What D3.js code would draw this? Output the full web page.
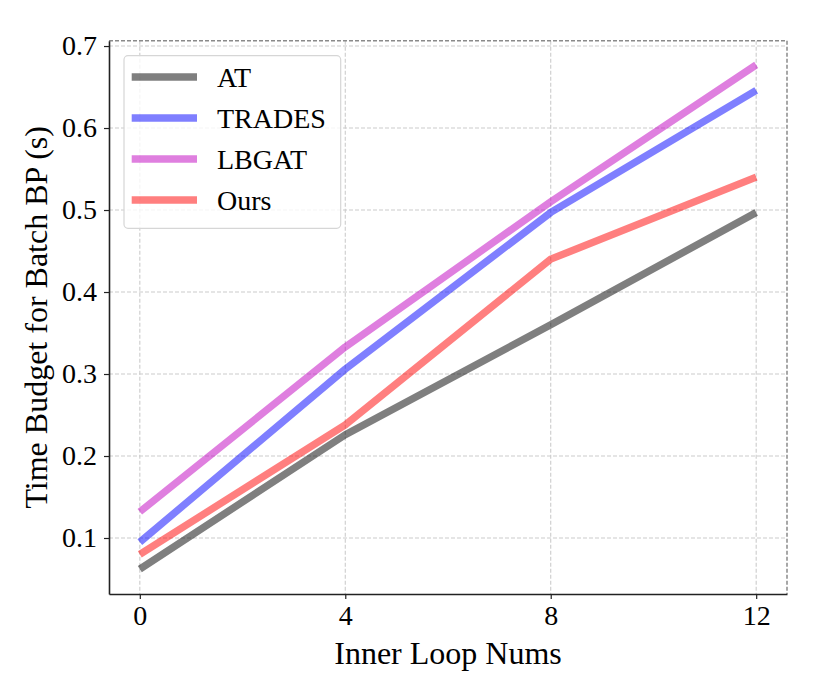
<!DOCTYPE html>
<html><head><meta charset="utf-8">
<script src="https://cdn.jsdelivr.net/npm/d3@7/dist/d3.min.js"></script>
<style>body{margin:0;background:#fff}svg{display:block}text{font-family:"Liberation Serif","Times New Roman",serif;fill:#000}</style>
</head><body><div id="chart"></div>
<script>
const xValues = [0, 4, 8, 12];
const seriesNames = ["AT", "TRADES", "LBGAT", "Ours"];
const seriesColors = ["#000000", "#0000ff", "#bf00bf", "#ff0000"];
const atValues = [0.062, 0.226, 0.360, 0.497];
const tradesValues = [0.095, 0.306, 0.497, 0.646];
const lbgatValues = [0.132, 0.333, 0.510, 0.677];
const oursValues = [0.080, 0.238, 0.440, 0.540];
const xTicks = [0, 4, 8, 12];
const yTicks = [0.1, 0.2, 0.3, 0.4, 0.5, 0.6, 0.7];
const xLabel = "Inner Loop Nums";
const yLabel = "Time Budget for Batch BP (s)";

const W = 830, H = 673;
const m = {l: 109, r: 830 - 787, t: 40.7, b: 673 - 594};
const iw = W - m.l - m.r, ih = H - m.t - m.b;
const svg = d3.select("#chart").append("svg").attr("width", W).attr("height", H);
const g = svg.append("g").attr("transform", `translate(${m.l},${m.t})`);

const x = d3.scaleLinear().domain([-0.6, 12.6]).range([0, iw]);
const y = d3.scaleLinear().domain([0.0317, 0.7065]).range([ih, 0]);

// grid
g.append("g").selectAll("line").data(xTicks).join("line")
  .attr("x1", d => x(d)).attr("x2", d => x(d)).attr("y1", 0).attr("y2", ih)
  .attr("stroke", "#cccccc").attr("stroke-width", 1.1).attr("stroke-dasharray", "4,2");
g.append("g").selectAll("line").data(yTicks).join("line")
  .attr("y1", d => y(d)).attr("y2", d => y(d)).attr("x1", 0).attr("x2", iw)
  .attr("stroke", "#cccccc").attr("stroke-width", 1.1).attr("stroke-dasharray", "4,2");

// lines
const allSeries = [atValues, tradesValues, lbgatValues, oursValues];
const line = d3.line().x((d, i) => x(xValues[i])).y(d => y(d));
allSeries.forEach((vals, k) => {
  g.append("path").datum(vals).attr("d", line).attr("fill", "none")
    .attr("stroke", seriesColors[k]).attr("stroke-opacity", 0.5)
    .attr("stroke-width", 7.3).attr("stroke-linecap", "butt").attr("stroke-linejoin", "round");
});

// top/right dashed spines
g.append("line").attr("x1", 0).attr("x2", iw).attr("y1", 0).attr("y2", 0)
  .attr("stroke", "#8a8a8a").attr("stroke-width", 1.5).attr("stroke-dasharray", "4,2");
g.append("line").attr("x1", iw).attr("x2", iw).attr("y1", 0).attr("y2", ih)
  .attr("stroke", "#8a8a8a").attr("stroke-width", 1.5).attr("stroke-dasharray", "4,2");

// axes
const xAxis = g.append("g").attr("transform", `translate(0,${ih})`)
  .call(d3.axisBottom(x).tickValues(xTicks).tickFormat(d3.format("d")).tickSizeInner(5).tickSizeOuter(0).tickPadding(6));
const yAxis = g.append("g")
  .call(d3.axisLeft(y).tickValues(yTicks).tickFormat(d3.format(".1f")).tickSizeInner(5).tickSizeOuter(0).tickPadding(7));
[xAxis, yAxis].forEach(a => {
  a.select(".domain").attr("stroke", "#222").attr("stroke-width", 1.6);
  a.selectAll(".tick line").attr("stroke", "#222").attr("stroke-width", 1.2);
  a.selectAll(".tick text").attr("font-size", 28).attr("font-family", "Liberation Serif, serif").attr("fill", "#000");
});

// axis labels
svg.append("text").attr("x", m.l + iw / 2).attr("y", 664).attr("text-anchor", "middle")
  .attr("font-size", 32).text(xLabel);
svg.append("text").attr("transform", `translate(47,${m.t + ih / 2}) rotate(-90)`)
  .attr("text-anchor", "middle").attr("font-size", 32).text(yLabel);

// legend
const lg = svg.append("g");
lg.append("rect").attr("x", 124).attr("y", 55.7).attr("width", 216.7).attr("height", 172.6)
  .attr("rx", 4).attr("fill", "#fff").attr("fill-opacity", 0.8)
  .attr("stroke", "#d6d6d6").attr("stroke-width", 1.2);
const rowY = [77, 118, 159, 200];
seriesNames.forEach((name, k) => {
  lg.append("line").attr("x1", 131.7).attr("x2", 197).attr("y1", rowY[k]).attr("y2", rowY[k])
    .attr("stroke", seriesColors[k]).attr("stroke-opacity", 0.5).attr("stroke-width", 7.3);
  lg.append("text").attr("x", 217).attr("y", rowY[k] + 10).attr("font-size", 28).text(name);
});
</script></body></html>
